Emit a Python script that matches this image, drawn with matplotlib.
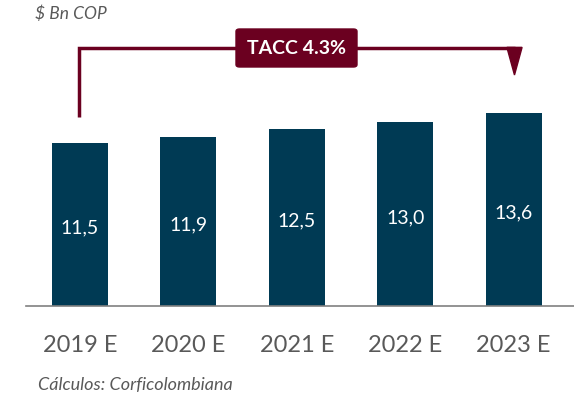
import matplotlib.pyplot as plt
from matplotlib.patches import FancyBboxPatch, Polygon

plt.rcParams['font.family'] = ['Lato', 'DejaVu Sans']

# Data
years = ["2019 E", "2020 E", "2021 E", "2022 E", "2023 E"]
values = [11.5, 11.9, 12.5, 13.0, 13.6]
value_labels = ["11,5", "11,9", "12,5", "13,0", "13,6"]
cagr_label = "TACC 4.3%"

bar_color = "#003A54"
red = "#6B0020"
gray = "#595959"

fig = plt.figure(figsize=(5.74, 4.01), dpi=100)
ax = fig.add_axes([26 / 574, 95 / 401, 548 / 574, 306 / 401])

x = list(range(len(years)))
ax.bar(x, values, width=0.517, color=bar_color, zorder=2)
for xi, v, lab in zip(x, values, value_labels):
    ax.text(xi, v / 2 - 0.25, lab, ha="center", va="center", color="white", fontsize=14)

ax.set_xlim(-0.498, 4.557)
ax.set_ylim(0, 21.58)
ax.set_yticks([])
ax.set_xticks(x)
ax.set_xticklabels(years, fontsize=17, color=gray)
ax.tick_params(axis="x", length=0, pad=21)
for s in ["top", "right", "left"]:
    ax.spines[s].set_visible(False)
ax.spines["bottom"].set_color("#808080")
ax.spines["bottom"].set_linewidth(1.2)

# CAGR bracket from first to last bar
x_left = x[0] - 0.01
x_right = x[-1] + 0.013
y_top = 18.19
ax.plot([x_left, x_left, x_right], [13.33, y_top, y_top], color=red, lw=2.5,
        solid_joinstyle="miter", solid_capstyle="butt", clip_on=False, zorder=3)
tri = Polygon([[x_right - 0.075, y_top + 0.05], [x_right + 0.065, y_top + 0.05],
               [x_right - 0.005, 16.29]], closed=True, color=red, clip_on=False, zorder=3)
ax.add_patch(tri)

fig.patches.append(FancyBboxPatch((236 / 574, 1 - 67 / 401), 121 / 574, 38 / 401,
                                  boxstyle="round,pad=0,rounding_size=0.006",
                                  transform=fig.transFigure, color=red, zorder=4))
fig.text(296.5 / 574, 1 - 48 / 401, cagr_label, ha="center", va="center", color="white",
         fontsize=14, fontweight="bold", zorder=5)

fig.text(35 / 574, 1 - 14 / 401, "$ Bn COP", ha="left", va="center", color=gray,
         fontsize=12.5, style="italic")
fig.text(38 / 574, 1 - 385 / 401, "Cálculos: Corficolombiana", ha="left", va="center",
         color=gray, fontsize=13, style="italic")

fig.savefig("out.png", dpi=100)
